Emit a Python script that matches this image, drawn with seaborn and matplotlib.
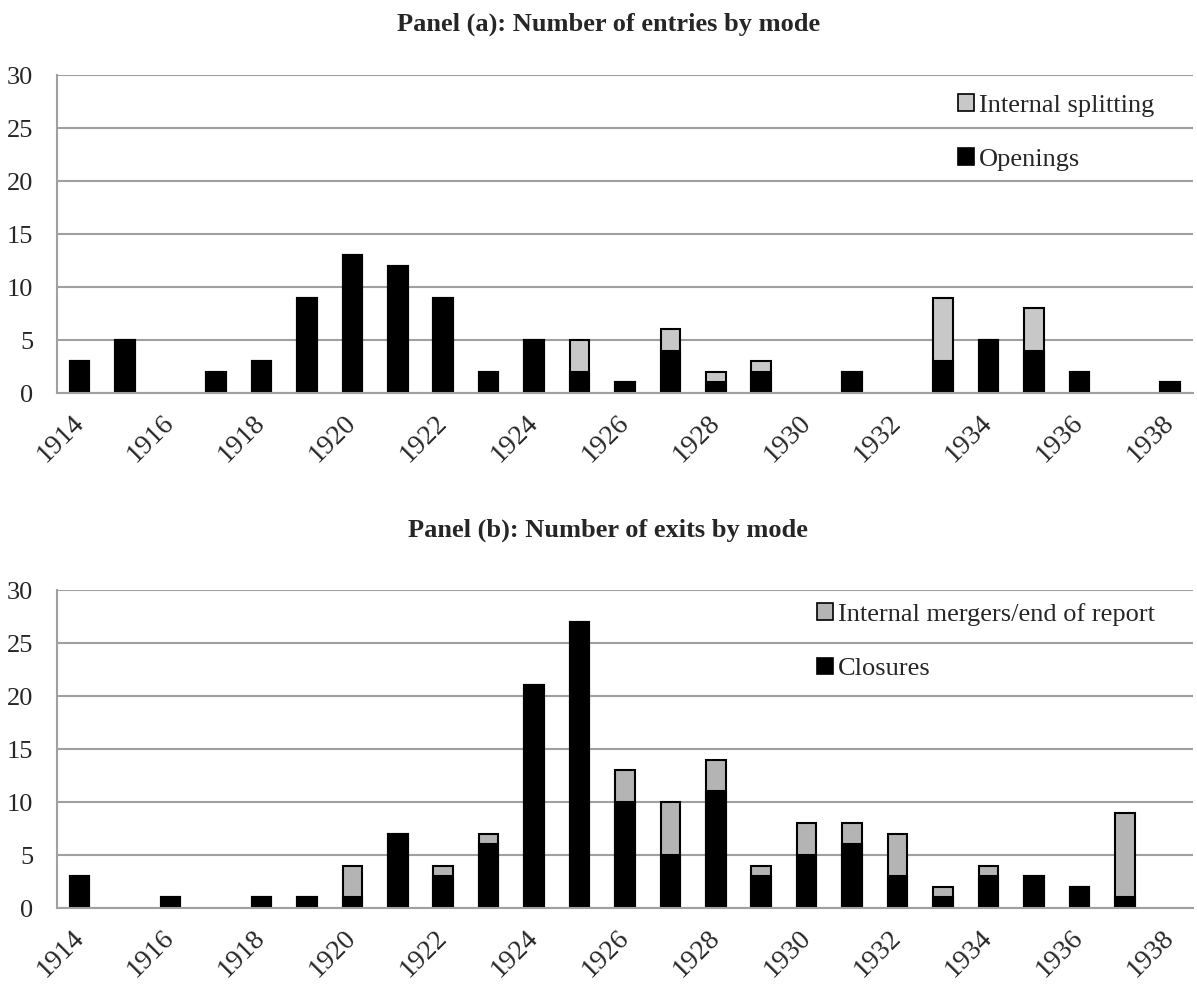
#!/usr/bin/env python3
"""Entries and exits by mode, 1914-1938 (two stacked bar panels)."""

import matplotlib
matplotlib.use("Agg")
import matplotlib.pyplot as plt
from matplotlib.patches import Patch
from matplotlib.ticker import MultipleLocator
from matplotlib.transforms import ScaledTranslation
import numpy as np
import pandas as pd
import seaborn as sns

years = list(range(1914, 1939))
openings = [3, 5, 0, 2, 3, 9, 13, 12, 9, 2, 5, 2, 1, 4, 1, 2, 0, 2, 0, 3, 5, 4, 2, 0, 1]
splitting = [0, 0, 0, 0, 0, 0, 0, 0, 0, 0, 0, 3, 0, 2, 1, 1, 0, 0, 0, 6, 0, 4, 0, 0, 0]
closures = [3, 0, 1, 0, 1, 1, 1, 7, 3, 6, 21, 27, 10, 5, 11, 3, 5, 6, 3, 1, 3, 3, 2, 1, 0]
mergers = [0, 0, 0, 0, 0, 0, 3, 0, 1, 1, 0, 0, 3, 5, 3, 1, 3, 2, 4, 1, 1, 0, 0, 8, 0]

GRID = "#a0a0a0"
FONT = ["Liberation Serif", "DejaVu Serif"]


def draw_panel(ax, base, extra, base_label, extra_label, extra_color, legend_anchor):
    labels = [str(y) for y in years]
    df = pd.DataFrame({
        "year": labels,
        "base": base,
        "total": [b + e for b, e in zip(base, extra)],
    })

    # gray total first, black base drawn over it
    sns.barplot(data=df, x="year", y="total", order=labels, color=extra_color,
                edgecolor="black", linewidth=1.5, width=0.43, saturation=1, ax=ax)
    sns.barplot(data=df, x="year", y="base", order=labels, color="black",
                edgecolor="black", linewidth=1.5, width=0.43, saturation=1, ax=ax)
    for p in ax.patches:
        if p.get_height() == 0:
            p.set_linewidth(0)

    ax.set_xlim(-0.5, len(years) - 0.5)
    ax.set_ylim(0, 30)
    ax.yaxis.set_major_locator(MultipleLocator(5))
    ax.yaxis.set_minor_locator(MultipleLocator(1))
    ax.yaxis.grid(True, color=GRID, linewidth=1.5)
    ax.set_axisbelow(True)

    # ticks between categories, labels on every second year
    ax.set_xticks(np.arange(-0.5, len(years), 1))
    ax.set_xticklabels([])
    pos = np.arange(0, len(years), 2)
    ax.set_xticks(pos, labels=[labels[i] for i in pos], minor=True)
    shift = ScaledTranslation(6 / 100, 0, ax.figure.dpi_scale_trans)
    for t in ax.get_xticklabels(minor=True):
        t.set_rotation(45)
        t.set_ha("right")
        t.set_va("center")
        t.set_rotation_mode("anchor")
        t.set_transform(t.get_transform() + shift)

    ax.tick_params(axis="x", which="major", direction="out", length=5,
                   width=1.5, color=GRID)
    ax.tick_params(axis="x", which="minor", length=0, pad=19, labelsize=20)
    ax.tick_params(axis="y", which="major", direction="out", length=6,
                   width=1.5, color=GRID, pad=11, labelsize=19)
    ax.tick_params(axis="y", which="minor", direction="in", length=3.5,
                   width=1.5, color=GRID)

    for side in ["top", "right"]:
        ax.spines[side].set_visible(False)
    for side in ["left", "bottom"]:
        ax.spines[side].set_color(GRID)
        ax.spines[side].set_linewidth(1.5)

    ax.set_xlabel("")
    ax.set_ylabel("")

    handles = [
        Patch(facecolor=extra_color, edgecolor="black", linewidth=1.2, label=extra_label),
        Patch(facecolor="black", edgecolor="black", linewidth=1.2, label=base_label),
    ]
    ax.legend(handles=handles, loc="upper left", bbox_to_anchor=legend_anchor,
              frameon=False, fontsize=19, handlelength=0.6, handleheight=0.6,
              handletextpad=0.2, labelspacing=1.2, borderpad=0, borderaxespad=0)


def main():
    sns.set_style("white")
    plt.rcParams["font.family"] = FONT

    fig = plt.figure(figsize=(11.97, 9.86), dpi=100)
    ax1 = fig.add_axes([0.0476, 0.6014, 0.949, 0.3225])
    ax2 = fig.add_axes([0.0476, 0.0791, 0.949, 0.3225])

    draw_panel(ax1, openings, splitting, "Openings", "Internal splitting",
               "#c8c8c8", (0.793, 0.94))
    draw_panel(ax2, closures, mergers, "Closures", "Internal mergers/end of report",
               "#b4b4b4", (0.669, 0.959))

    fig.text(0.508, 0.975, "Panel (a): Number of entries by mode",
             ha="center", va="center", fontsize=19, fontweight="bold")
    fig.text(0.508, 0.4625, "Panel (b): Number of exits by mode",
             ha="center", va="center", fontsize=19, fontweight="bold")

    fig.savefig("out.png", dpi=100, facecolor="white")
    plt.close(fig)


if __name__ == "__main__":
    main()
